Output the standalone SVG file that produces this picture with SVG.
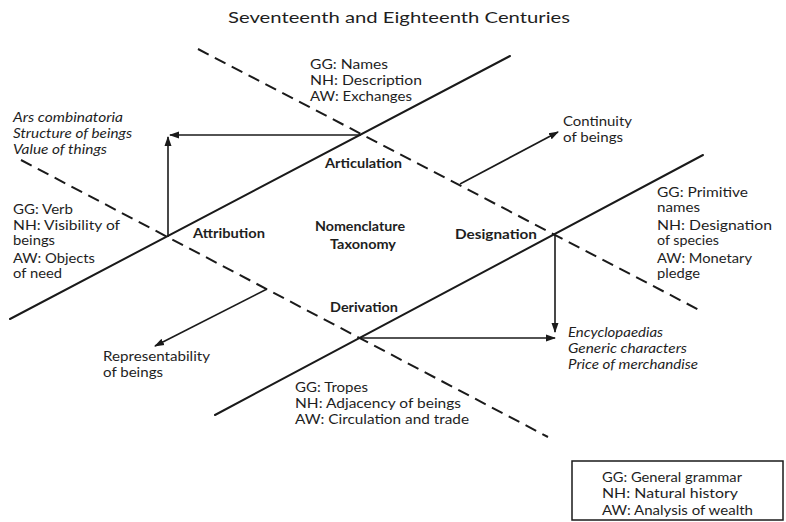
<svg xmlns="http://www.w3.org/2000/svg" width="786" height="522" viewBox="0 0 786 522">
<style>
  text { font-family: Lato, "Open Sans", "DejaVu Sans", sans-serif; fill: #1e1e1e; }
  .t { font-size: 13px; }
  .i { font-size: 13px; font-style: italic; }
  .b { font-size: 13px; font-weight: bold; }
  .title { font-size: 16px; }
  .solid { stroke: #1a1a1a; stroke-width: 2; fill: none; stroke-linecap: round; }
  .dash { stroke: #1a1a1a; stroke-width: 2; fill: none; stroke-dasharray: 12 7; }
  .arr { stroke: #1a1a1a; stroke-width: 1.6; fill: none; marker-end: url(#ah); }
</style>
<defs>
  <marker id="ah" viewBox="0 0 10 8" refX="9" refY="4" markerWidth="10" markerHeight="8" markerUnits="userSpaceOnUse" orient="auto">
    <path d="M0,0.5 L10,4 L0,7.5 z" fill="#1a1a1a"/>
  </marker>
</defs>
<rect width="786" height="522" fill="#ffffff"/>
<text class="title" x="228" y="23" textLength="342" lengthAdjust="spacingAndGlyphs">Seventeenth and Eighteenth Centuries</text>
<g id="connectors">
  <line class="solid" x1="10" y1="319" x2="510" y2="56"/>
  <line class="solid" x1="215" y1="415" x2="703" y2="155"/>
  <line class="dash" x1="198" y1="49" x2="703" y2="312"/>
  <line class="dash" x1="21" y1="160" x2="548" y2="437"/>
  <line class="arr" x1="361" y1="135" x2="170" y2="135"/>
  <line class="arr" x1="168" y1="237" x2="168" y2="137"/>
  <line class="arr" x1="555" y1="235" x2="555" y2="332"/>
  <line class="arr" x1="360" y1="338" x2="555" y2="338"/>
  <line class="arr" x1="460" y1="184" x2="558" y2="132"/>
  <line class="arr" x1="267" y1="289" x2="155" y2="346"/>
</g>
<g id="articulation">
  <text class="t" x="310" y="69" textLength="78" lengthAdjust="spacingAndGlyphs">GG: Names</text>
  <text class="t" x="310" y="85" textLength="112" lengthAdjust="spacingAndGlyphs">NH: Description</text>
  <text class="t" x="310" y="101" textLength="102" lengthAdjust="spacingAndGlyphs">AW: Exchanges</text>
  <text class="b" x="325" y="168" textLength="77" lengthAdjust="spacingAndGlyphs">Articulation</text>
</g>
<g id="corner-top">
  <text class="i" x="13" y="122" textLength="110" lengthAdjust="spacingAndGlyphs">Ars combinatoria</text>
  <text class="i" x="13" y="138" textLength="119" lengthAdjust="spacingAndGlyphs">Structure of beings</text>
  <text class="i" x="13" y="154" textLength="94" lengthAdjust="spacingAndGlyphs">Value of things</text>
</g>
<g id="attribution">
  <text class="t" x="13" y="214" textLength="60" lengthAdjust="spacingAndGlyphs">GG: Verb</text>
  <text class="t" x="13" y="230" textLength="107" lengthAdjust="spacingAndGlyphs">NH: Visibility of</text>
  <text class="t" x="13" y="245" textLength="42" lengthAdjust="spacingAndGlyphs">beings</text>
  <text class="t" x="13" y="263" textLength="82" lengthAdjust="spacingAndGlyphs">AW: Objects</text>
  <text class="t" x="13" y="278" textLength="49" lengthAdjust="spacingAndGlyphs">of need</text>
  <text class="b" x="193" y="238" textLength="72" lengthAdjust="spacingAndGlyphs">Attribution</text>
</g>
<g id="center">
  <text class="b" x="315" y="231" textLength="90" lengthAdjust="spacingAndGlyphs">Nomenclature</text>
  <text class="b" x="330" y="249" textLength="66" lengthAdjust="spacingAndGlyphs">Taxonomy</text>
</g>
<g id="designation">
  <text class="b" x="455" y="239" textLength="82" lengthAdjust="spacingAndGlyphs">Designation</text>
  <text class="t" x="657" y="197" textLength="91" lengthAdjust="spacingAndGlyphs">GG: Primitive</text>
  <text class="t" x="657" y="212" textLength="43" lengthAdjust="spacingAndGlyphs">names</text>
  <text class="t" x="657" y="230" textLength="115" lengthAdjust="spacingAndGlyphs">NH: Designation</text>
  <text class="t" x="657" y="245" textLength="62" lengthAdjust="spacingAndGlyphs">of species</text>
  <text class="t" x="657" y="263" textLength="95" lengthAdjust="spacingAndGlyphs">AW: Monetary</text>
  <text class="t" x="657" y="278" textLength="43" lengthAdjust="spacingAndGlyphs">pledge</text>
</g>
<g id="continuity">
  <text class="t" x="563" y="126" textLength="69" lengthAdjust="spacingAndGlyphs">Continuity</text>
  <text class="t" x="563" y="142" textLength="60" lengthAdjust="spacingAndGlyphs">of beings</text>
</g>
<g id="corner-bottom">
  <text class="i" x="568" y="337" textLength="95" lengthAdjust="spacingAndGlyphs">Encyclopaedias</text>
  <text class="i" x="568" y="353" textLength="119" lengthAdjust="spacingAndGlyphs">Generic characters</text>
  <text class="i" x="568" y="369" textLength="130" lengthAdjust="spacingAndGlyphs">Price of merchandise</text>
</g>
<g id="derivation">
  <text class="b" x="330" y="312" textLength="68" lengthAdjust="spacingAndGlyphs">Derivation</text>
  <text class="t" x="295" y="392" textLength="73" lengthAdjust="spacingAndGlyphs">GG: Tropes</text>
  <text class="t" x="295" y="408" textLength="166" lengthAdjust="spacingAndGlyphs">NH: Adjacency of beings</text>
  <text class="t" x="295" y="424" textLength="174" lengthAdjust="spacingAndGlyphs">AW: Circulation and trade</text>
</g>
<g id="representability">
  <text class="t" x="103" y="361" textLength="107" lengthAdjust="spacingAndGlyphs">Representability</text>
  <text class="t" x="103" y="377" textLength="60" lengthAdjust="spacingAndGlyphs">of beings</text>
</g>
<g id="legend">
  <rect x="572" y="461" width="211" height="59" fill="none" stroke="#1a1a1a" stroke-width="1.5"/>
  <text class="t" x="602" y="482" textLength="140" lengthAdjust="spacingAndGlyphs">GG: General grammar</text>
  <text class="t" x="602" y="498" textLength="136" lengthAdjust="spacingAndGlyphs">NH: Natural history</text>
  <text class="t" x="602" y="515" textLength="151" lengthAdjust="spacingAndGlyphs">AW: Analysis of wealth</text>
</g>
</svg>
